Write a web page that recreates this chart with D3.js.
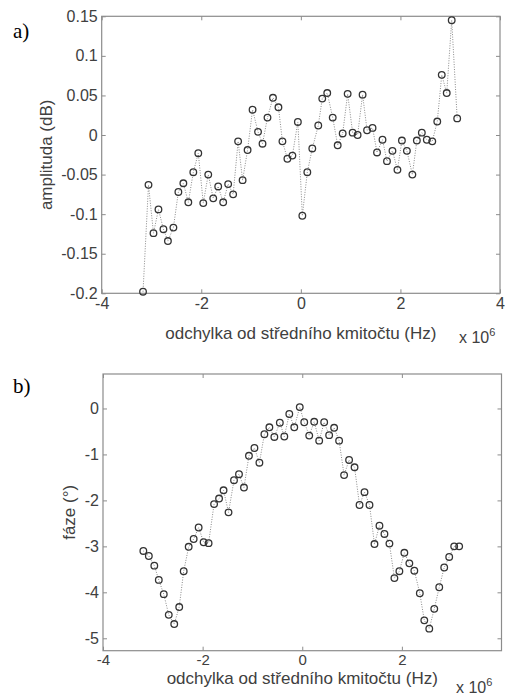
<!DOCTYPE html>
<html>
<head>
	<meta charset="utf-8">
	<title>amplituda a faze</title>
	<script src="https://d3js.org/d3.v7.min.js"></script>
	<style>
		body { margin: 0; background: #fff; }
		svg text { font-family: "Liberation Sans", Arial, sans-serif; fill: #404040; }
		.panel-tag { font-family: "Liberation Serif", "Times New Roman", serif !important; fill: #000 !important; }
	</style>
</head>
<body>
<div id="chart"></div>
<script type="text/javascript">

	var freqA = [-3.17,-3.06,-2.96,-2.86,-2.76,-2.67,-2.56,-2.46,-2.36,-2.26,
		-2.16,-2.06,-1.96,-1.86,-1.76,-1.66,-1.56,-1.46,-1.36,-1.26,
		-1.17,-1.07,-0.97,-0.86,-0.77,-0.67,-0.56,-0.45,-0.37,-0.27,
		-0.17,-0.06,0.03,0.13,0.23,0.35,0.43,0.53,0.64,0.74,
		0.84,0.94,1.04,1.14,1.24,1.33,1.44,1.53,1.64,1.73,
		1.84,1.94,2.03,2.13,2.24,2.33,2.43,2.53,2.64,2.74,
		2.83,2.93,3.03,3.14];
	var amplitude = [-0.198,-0.063,-0.124,-0.094,-0.119,-0.134,-0.117,-0.072,-0.061,-0.085,
		-0.047,-0.023,-0.086,-0.050,-0.080,-0.065,-0.085,-0.062,-0.075,-0.008,
		-0.057,-0.019,0.032,0.004,-0.011,0.022,0.047,0.035,-0.008,-0.030,
		-0.026,0.0165,-0.102,-0.047,-0.017,0.012,0.046,0.053,0.022,-0.013,
		0.002,0.052,0.003,0.000,0.051,0.006,0.009,-0.022,-0.006,-0.033,
		-0.020,-0.044,-0.007,-0.020,-0.050,-0.007,0.003,-0.006,-0.008,0.017,
		0.076,0.053,0.145,0.021];

	var freqB = [-3.19,-3.08,-2.97,-2.88,-2.78,-2.68,-2.57,-2.47,-2.38,-2.28,
		-2.18,-2.08,-1.98,-1.88,-1.77,-1.67,-1.58,-1.48,-1.37,-1.27,
		-1.17,-1.07,-0.96,-0.86,-0.76,-0.66,-0.56,-0.45,-0.36,-0.26,
		-0.16,-0.05,0.04,0.14,0.24,0.34,0.44,0.54,0.64,0.74,
		0.84,0.94,1.05,1.15,1.25,1.35,1.45,1.55,1.65,1.75,
		1.85,1.95,2.05,2.15,2.25,2.36,2.45,2.55,2.65,2.75,
		2.85,2.95,3.05,3.15];
	var phase = [-3.10,-3.21,-3.42,-3.73,-4.04,-4.49,-4.69,-4.32,-3.54,-3.01,
		-2.84,-2.59,-2.91,-2.93,-2.08,-1.96,-1.78,-2.26,-1.56,-1.43,
		-1.72,-1.03,-0.86,-1.18,-0.56,-0.41,-0.62,-0.31,-0.61,-0.12,
		-0.41,0.03,-0.30,-0.59,-0.29,-0.70,-0.30,-0.58,-0.42,-0.70,
		-1.45,-1.12,-1.28,-2.10,-1.82,-2.10,-2.95,-2.55,-2.73,-2.94,
		-3.69,-3.54,-3.14,-3.37,-3.53,-4.02,-4.61,-4.79,-4.36,-3.89,
		-3.46,-3.23,-3.00,-3.00];

	var ticksA_x = [-4, -2, 0, 2, 4];
	var ticksA_y = [-0.2, -0.15, -0.1, -0.05, 0, 0.05, 0.1, 0.15];
	var ticksB_x = [-4, -2, 0, 2];
	var ticksB_y = [-5, -4, -3, -2, -1, 0];

	var xLabel = "odchylka od středního kmitočtu (Hz)";

	var svg = d3.select("#chart").append("svg")
		.attr("width", 505)
		.attr("height", 694);

	var fmt = function(d) { return String(+d.toFixed(2)); };

	// one MATLAB-like panel: box, inward ticks, dotted line with circles
	function panel(cfg) {
		var x = d3.scaleLinear().domain(cfg.xdom).range([cfg.left, cfg.right]);
		var y = d3.scaleLinear().domain(cfg.ydom).range([cfg.bottom, cfg.top]);
		var g = svg.append("g");

		g.append("rect")
			.attr("x", cfg.left).attr("y", cfg.top)
			.attr("width", cfg.right - cfg.left)
			.attr("height", cfg.bottom - cfg.top)
			.attr("fill", "#fff")
			.attr("stroke", "#8c8c8c")
			.attr("stroke-width", 1.2);

		var axes = [
			[d3.axisBottom(x).tickValues(cfg.xt).tickFormat(fmt), "translate(0," + cfg.bottom + ")", cfg.xpad, cfg.xfont],
			[d3.axisTop(x).tickValues(cfg.xt).tickFormat(""), "translate(0," + cfg.top + ")", 4, 16],
			[d3.axisLeft(y).tickValues(cfg.yt).tickFormat(fmt), "translate(" + cfg.left + ",0)", 4, 16],
			[d3.axisRight(y).tickValues(cfg.yt).tickFormat(""), "translate(" + cfg.right + ",0)", 4, 16]
		];
		axes.forEach(function(a) {
			var ax = g.append("g")
				.attr("transform", a[1])
				.call(a[0].tickSizeInner(-4).tickSizeOuter(0).tickPadding(a[2]));
			ax.select(".domain").remove();
			ax.selectAll("line").attr("stroke", "#8c8c8c");
			ax.selectAll("text").style("font-size", a[3] + "px").attr("fill", "#404040");
		});

		var pts = cfg.xs.map(function(v, i) { return [v, cfg.ys[i]]; });

		g.append("path")
			.datum(pts)
			.attr("d", d3.line().x(function(d) { return x(d[0]); }).y(function(d) { return y(d[1]); }))
			.attr("fill", "none")
			.attr("stroke", "#8a8a8a")
			.attr("stroke-width", 1)
			.attr("stroke-dasharray", "1,1.5");

		g.selectAll("circle")
			.data(pts)
			.enter()
			.append("circle")
			.attr("cx", function(d) { return x(d[0]); })
			.attr("cy", function(d) { return y(d[1]); })
			.attr("r", 3.3)
			.attr("fill", "none")
			.attr("stroke", "#333")
			.attr("stroke-width", 1.3);

		// labels
		g.append("text")
			.attr("x", (cfg.left + cfg.right) / 2)
			.attr("y", cfg.xlabY)
			.attr("text-anchor", "middle")
			.style("font-size", "17px")
			.text(xLabel);

		g.append("text")
			.attr("transform", "translate(" + cfg.ylabX + "," + (cfg.top + cfg.bottom) / 2 + ") rotate(-90)")
			.attr("text-anchor", "middle")
			.style("font-size", "17px")
			.text(cfg.ylab);

		var ex = g.append("text")
			.attr("x", cfg.expX)
			.attr("y", cfg.expY)
			.style("font-size", "16px");
		ex.append("tspan").text("x 10");
		ex.append("tspan").attr("dy", -7).style("font-size", "11px").text("6");

		g.append("text")
			.attr("class", "panel-tag")
			.attr("x", 13)
			.attr("y", cfg.tagY)
			.style("font-size", "21px")
			.text(cfg.tag);
	}

	panel({
		xs: freqA, ys: amplitude,
		xdom: [-4, 4], ydom: [-0.2, 0.15],
		left: 101.7, right: 500, top: 16.3, bottom: 293.3,
		xt: ticksA_x, yt: ticksA_y, xpad: 4, xfont: 16,
		ylab: "amplituda (dB)", ylabX: 52, xlabY: 339, expX: 459, expY: 343,
		tag: "a)", tagY: 38
	});

	panel({
		xs: freqB, ys: phase,
		xdom: [-4, 4], ydom: [-5.27, 0.75],
		left: 103, right: 501.5, top: 374, bottom: 650.7,
		xt: ticksB_x, yt: ticksB_y, xpad: 3.5, xfont: 15,
		ylab: "fáze (°)", ylabX: 75, xlabY: 684, expX: 456, expY: 692.5,
		tag: "b)", tagY: 393
	});

</script>
</body>
</html>
